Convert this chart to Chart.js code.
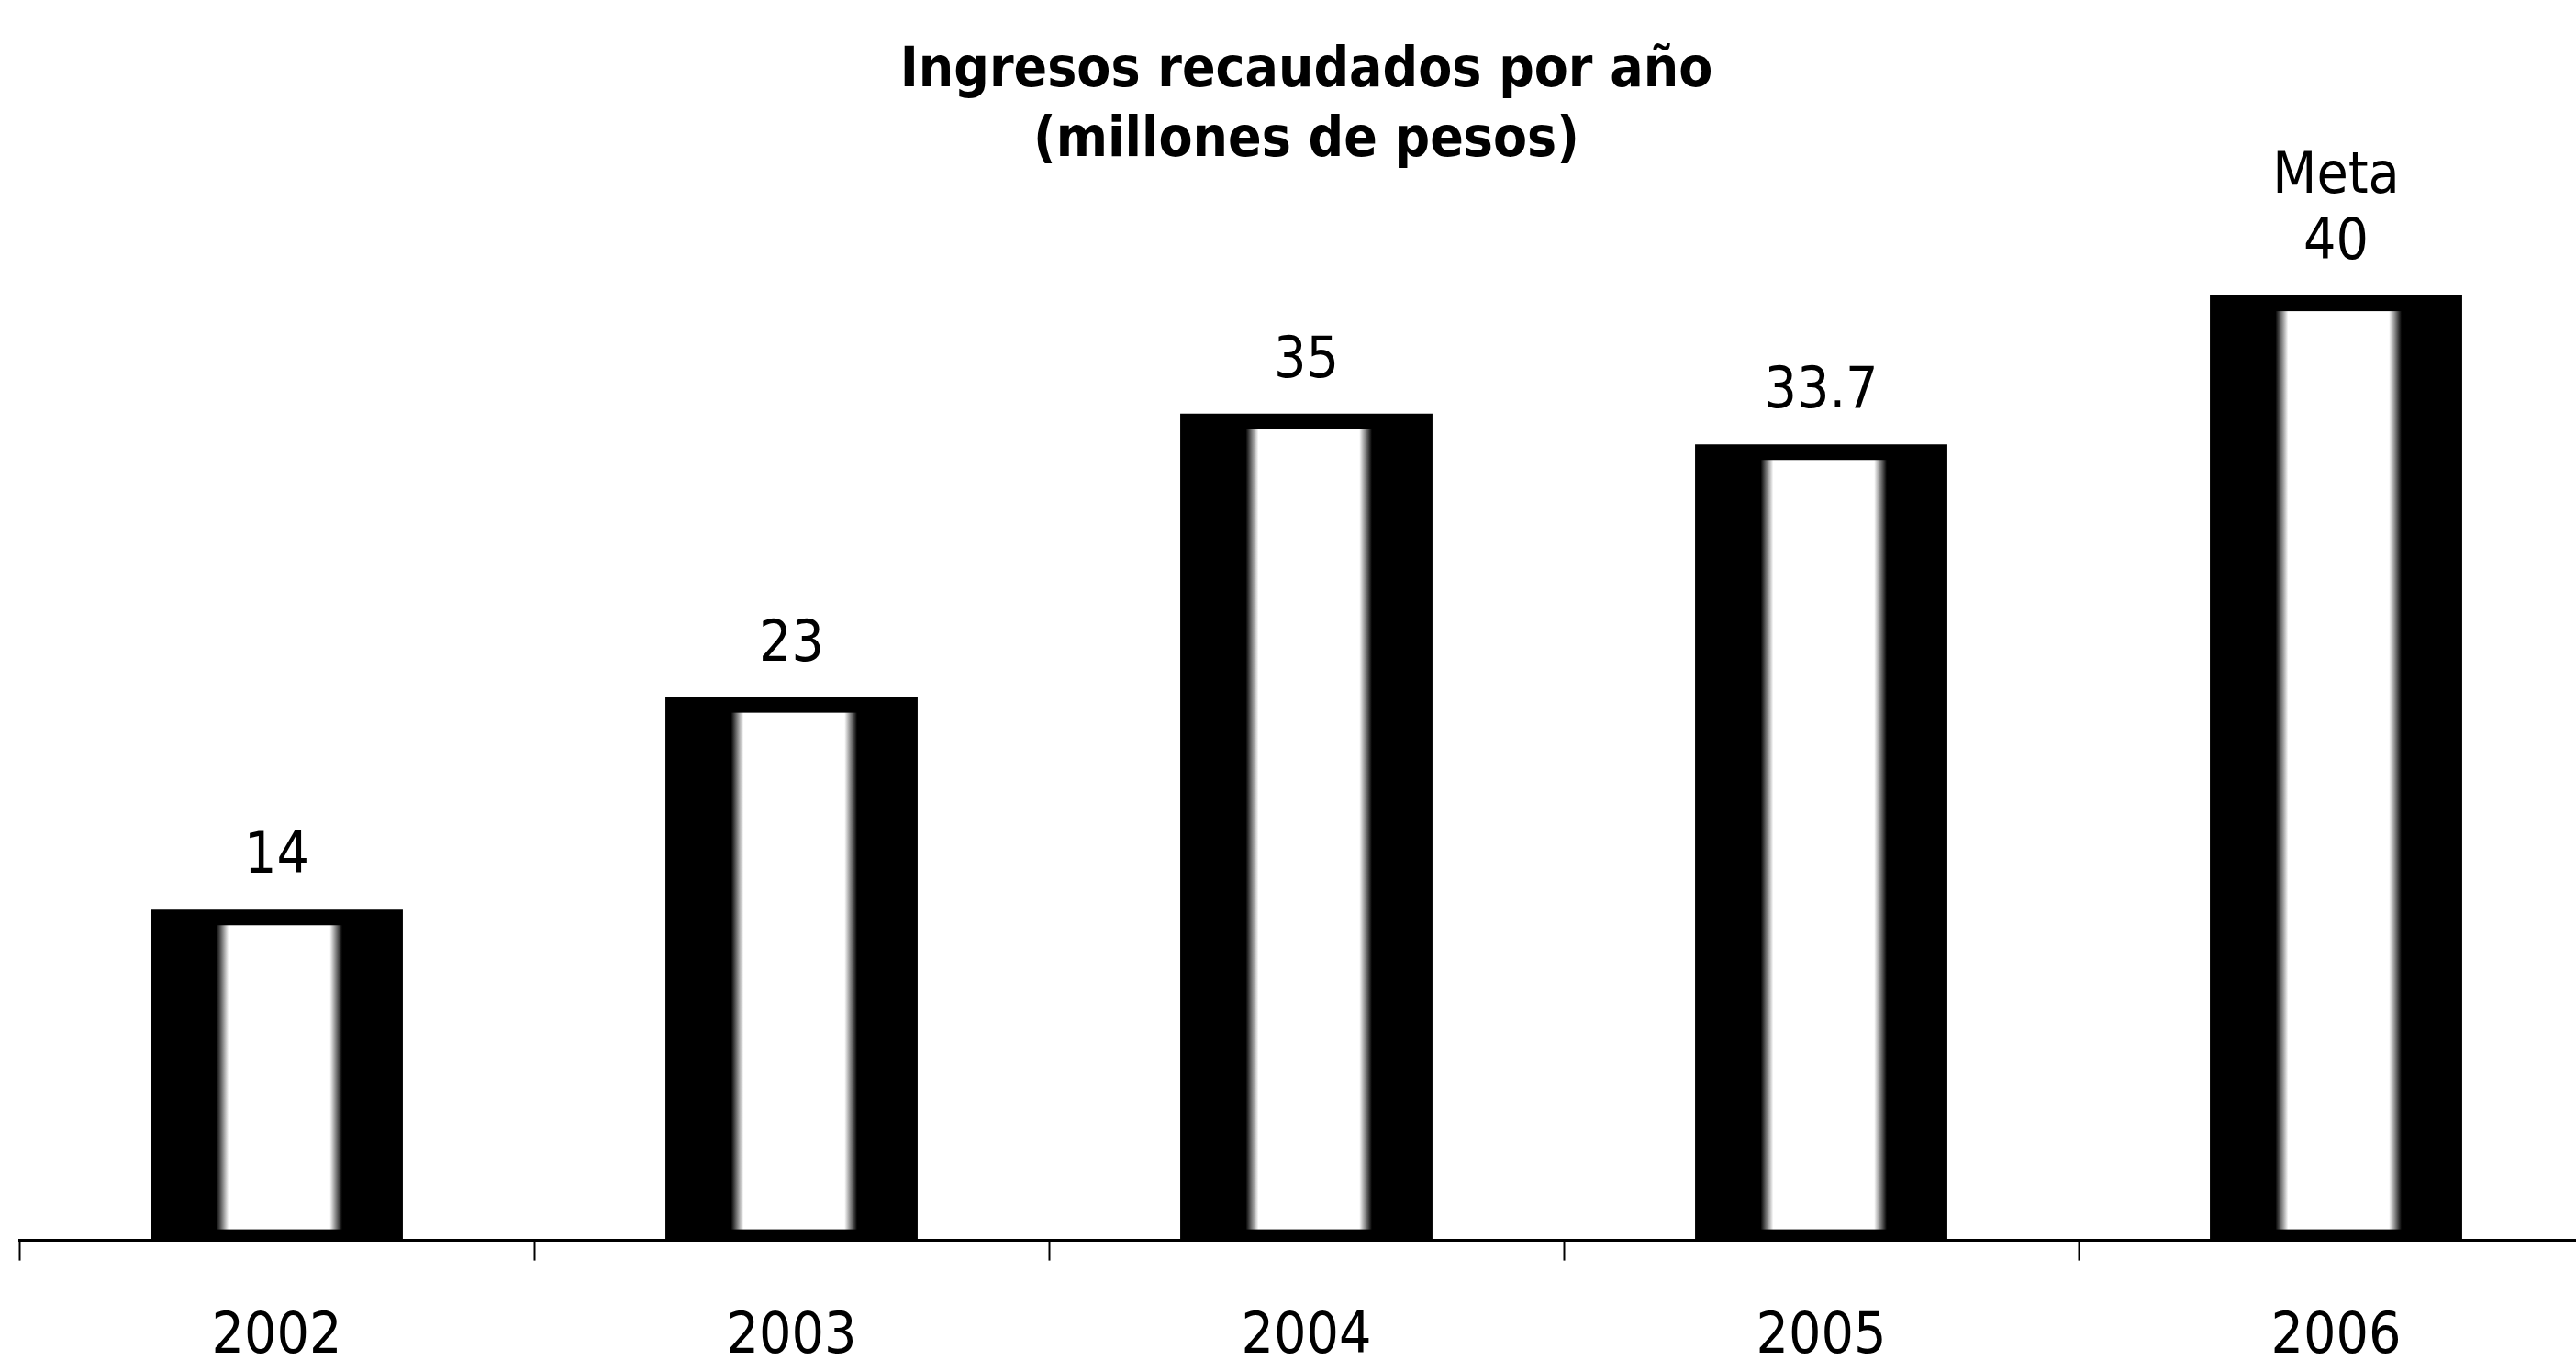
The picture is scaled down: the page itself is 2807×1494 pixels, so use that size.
<!DOCTYPE html>
<html lang="es">
<head>
<meta charset="utf-8">
<title>Ingresos recaudados por año</title>
<script src="https://cdn.jsdelivr.net/npm/chart.js@4.4.1/dist/chart.umd.min.js"></script>
<style>
    html, body { margin: 0; padding: 0; background: #fff; overflow: hidden; }
    #wrap { width: 2830px; height: 1542px; }
</style>
</head>
<body>
<div id="wrap"><canvas id="grafico"></canvas></div>
<script>
// Datos del gráfico
const anios = ['2002', '2003', '2004', '2005', '2006'];
const ingresos = [14, 23, 35, 33.7, 40];
const notas = ['', '', '', '', 'Meta'];

const FUENTE = '"Liberation Sans Narrow", "DejaVu Sans Condensed", "Liberation Sans", sans-serif';

// Dibuja el hueco blanco dentro de cada barra (efecto del escaneo original)
const interiorBarras = {
    id: 'interiorBarras',
    afterDatasetsDraw(chart) {
        const ctx = chart.ctx;
        chart.getDatasetMeta(0).data.forEach(bar => {
            const izq = bar.x - bar.width / 2;
            const ancho = bar.width;
            const x0 = izq + ancho * 0.26;
            const x1 = izq + ancho * 0.76;
            const y0 = bar.y + 17;
            const y1 = bar.base - 12;
            const grad = ctx.createLinearGradient(x0, 0, x1, 0);
            grad.addColorStop(0, '#000');
            grad.addColorStop(0.1, '#fff');
            grad.addColorStop(0.9, '#fff');
            grad.addColorStop(1, '#000');
            ctx.save();
            ctx.fillStyle = grad;
            ctx.fillRect(x0, y0, x1 - x0, y1 - y0);
            ctx.restore();
        });
    }
};

// Etiquetas con el valor encima de cada barra
const etiquetasValor = {
    id: 'etiquetasValor',
    afterDatasetsDraw(chart) {
        const ctx = chart.ctx;
        ctx.save();
        ctx.fillStyle = '#000';
        ctx.textAlign = 'center';
        ctx.textBaseline = 'alphabetic';
        ctx.font = '62px ' + FUENTE;
        chart.getDatasetMeta(0).data.forEach((bar, i) => {
            ctx.fillText(String(ingresos[i]), bar.x, bar.y - 40);
            if (notas[i]) {
                ctx.fillText(notas[i], bar.x, bar.y - 112);
            }
        });
        ctx.restore();
    }
};

new Chart(document.getElementById('grafico'), {
    type: 'bar',
    data: {
        labels: anios,
        datasets: [{
            data: ingresos,
            backgroundColor: '#000',
            borderWidth: 0,
            barPercentage: 0.49,
            categoryPercentage: 1
        }]
    },
    options: {
        responsive: true,
        maintainAspectRatio: false,
        animation: false,
        layout: { padding: { left: 21, right: 4, top: 0, bottom: 0 } },
        plugins: {
            legend: { display: false },
            tooltip: { enabled: false },
            title: {
                display: true,
                text: ['Ingresos recaudados por año', '(millones de pesos)'],
                color: '#000',
                font: { family: FUENTE, size: 60, weight: 'bold', lineHeight: 1.27 },
                padding: { top: 40, bottom: 1 }
            }
        },
        scales: {
            x: {
                offset: true,
                grid: {
                    display: true,
                    offset: true,
                    drawOnChartArea: false,
                    drawTicks: true,
                    tickLength: 22,
                    tickWidth: 2,
                    tickColor: '#000'
                },
                border: { display: true, color: '#000', width: 3 },
                ticks: {
                    color: '#000',
                    font: { family: FUENTE, size: 62 },
                    padding: 47
                }
            },
            y: {
                display: false,
                min: 0,
                max: 45
            }
        }
    },
    plugins: [interiorBarras, etiquetasValor]
});
</script>
</body>
</html>
